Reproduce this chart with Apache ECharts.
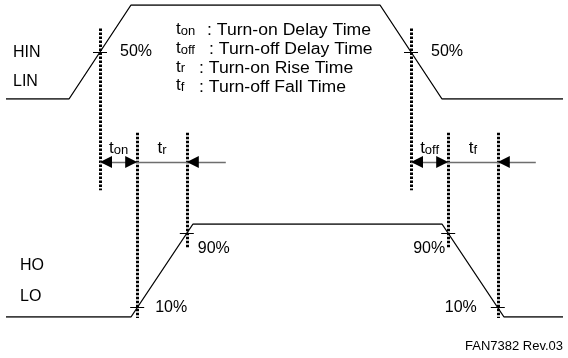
<!DOCTYPE html>
<html>
<head>
<meta charset="utf-8">
<script src="https://cdn.jsdelivr.net/npm/echarts@6/dist/echarts.min.js"></script>
<style>
  html, body { margin: 0; padding: 0; background: #fff; }
  #chart { width: 568px; height: 358px; }
</style>
</head>
<body>
<div id="chart"></div>
<script>
// input (HIN / LIN) and output (HO / LO) waveforms, time vs level in %
var inTime = [6, 69, 131, 380, 442, 563];
var inLevel = [0, 0, 100, 100, 0, 0];
var outTime = [6, 131, 193, 442, 504, 563];
var outLevel = [0, 0, 100, 100, 0, 0];

// reference levels
var inRef = 50;
var outLow = 10;
var outHigh = 90;

var legendSubs = ['on', 'off', 'r', 'f'];
var legendTexts = ['Turn-on Delay Time', 'Turn-off Delay Time', 'Turn-on Rise Time', 'Turn-off Fall Time'];
var intervalSubs = ['on', 'r', 'off', 'f'];
var footer = 'FAN7382 Rev.03';

var FONT = 'Arial, "Liberation Sans", sans-serif';

function pairs(t, v) {
    return t.map(function (x, i) { return [x, v[i]]; });
}
// time where the waveform crosses a level on a rising or falling edge
function crossAt(t, v, level, rising) {
    for (var i = 0; i < t.length - 1; i++) {
        var a = v[i], b = v[i + 1];
        if ((rising && a < level && b >= level) || (!rising && a > level && b <= level)) {
            return t[i] + (level - a) * (t[i + 1] - t[i]) / (b - a);
        }
    }
}

var inRise = crossAt(inTime, inLevel, inRef, true);
var inFall = crossAt(inTime, inLevel, inRef, false);
var outRiseLo = crossAt(outTime, outLevel, outLow, true);
var outRiseHi = crossAt(outTime, outLevel, outHigh, true);
var outFallHi = crossAt(outTime, outLevel, outHigh, false);
var outFallLo = crossAt(outTime, outLevel, outLow, false);

var arrowY = -67;   // level (input scale) where the timing arrows sit
var tail = 39;
var HEAD = 12;

var dotted = { color: '#000', width: 3, type: [2.5, 1.5], opacity: 1 };
var thin = { color: '#000', width: 1, opacity: 1 };

function tick(x, y) { return { coords: [[x - 7, y], [x + 7, y]] }; }
function vline(x, y0, y1) { return { coords: [[x, y0], [x, y1]] }; }
function seg(x0, x1) { return { coords: [[x0, arrowY], [x1, arrowY]] }; }
// arrow head whose tip touches x, pointing in direction dir (+1 right, -1 left)
function head(x, dir) {
    var c = x - dir * HEAD / 2;
    return { coords: [[c - 3 * dir, arrowY], [c, arrowY]] };
}

var sub = function (s) { return '{t|t}{s|' + s + '}'; };
var subRich = {
    t: { fontSize: 17, fontFamily: FONT, color: '#000', lineHeight: 17, verticalAlign: 'top' },
    s: { fontSize: 13, fontFamily: FONT, color: '#000', lineHeight: 13, verticalAlign: 'bottom', padding: [8, 0, 0, 0] }
};

var chart = echarts.init(document.getElementById('chart'));
var option = {
    animation: false,
    grid: [
        { left: 0, right: 0, top: 5, height: 94 },
        { left: 0, right: 0, top: 224, height: 93 }
    ],
    xAxis: [
        { type: 'value', gridIndex: 0, min: 0, max: 568, show: false },
        { type: 'value', gridIndex: 1, min: 0, max: 568, show: false }
    ],
    yAxis: [
        { type: 'value', gridIndex: 0, min: 0, max: 100, show: false },
        { type: 'value', gridIndex: 1, min: 0, max: 100, show: false }
    ],
    series: [
        {
            type: 'line', xAxisIndex: 0, yAxisIndex: 0, symbol: 'none',
            lineStyle: { color: '#000', width: 1.3 }, data: pairs(inTime, inLevel)
        },
        {
            type: 'line', xAxisIndex: 1, yAxisIndex: 1, symbol: 'none',
            lineStyle: { color: '#000', width: 1.3 }, data: pairs(outTime, outLevel)
        },
        // dotted markers
        {
            type: 'lines', coordinateSystem: 'cartesian2d', xAxisIndex: 0, yAxisIndex: 0, clip: false,
            lineStyle: dotted, symbol: 'none',
            data: [vline(inRise, 75, -97), vline(inFall, 75, -97)]
        },
        {
            type: 'lines', coordinateSystem: 'cartesian2d', xAxisIndex: 1, yAxisIndex: 1, clip: false,
            lineStyle: dotted, symbol: 'none',
            data: [vline(outRiseLo, 198, -1), vline(outRiseHi, 198, 74),
                   vline(outFallHi, 198, 74), vline(outFallLo, 198, -1)]
        },
        // crossing ticks
        {
            type: 'lines', coordinateSystem: 'cartesian2d', xAxisIndex: 0, yAxisIndex: 0, clip: false,
            lineStyle: thin, symbol: 'none',
            data: [tick(inRise, inRef), tick(inFall, inRef)]
        },
        {
            type: 'lines', coordinateSystem: 'cartesian2d', xAxisIndex: 1, yAxisIndex: 1, clip: false,
            lineStyle: thin, symbol: 'none',
            data: [tick(outRiseLo, outLow), tick(outRiseHi, outHigh),
                   tick(outFallHi, outHigh), tick(outFallLo, outLow)]
        },
        // timing arrows
        {
            type: 'lines', coordinateSystem: 'cartesian2d', xAxisIndex: 0, yAxisIndex: 0, clip: false,
            lineStyle: { color: '#6e6e6e', width: 1.4, opacity: 1 }, symbol: 'none',
            data: [seg(inRise, outRiseHi + tail), seg(inFall, outFallLo + tail - 1)]
        },
        {
            type: 'lines', coordinateSystem: 'cartesian2d', xAxisIndex: 0, yAxisIndex: 0, clip: false,
            lineStyle: { color: '#000', width: 1, opacity: 1 }, symbol: ['none', 'triangle'], symbolSize: HEAD,
            data: [head(inRise, -1), head(outRiseLo, 1), head(outRiseHi, -1),
                   head(inFall, -1), head(outFallHi, 1), head(outFallLo, -1)]
        },
        // level labels
        {
            type: 'scatter', xAxisIndex: 0, yAxisIndex: 0, symbolSize: 0, silent: true, clip: false,
            itemStyle: { opacity: 1 },
            label: { show: true, position: 'right', distance: 20, formatter: inRef + '%',
                     fontFamily: FONT, fontSize: 16, color: '#000' },
            data: [[inRise, inRef], [inFall, inRef]]
        },
        {
            type: 'scatter', xAxisIndex: 1, yAxisIndex: 1, symbolSize: 0, silent: true, clip: false,
            itemStyle: { opacity: 1 },
            label: { show: true, fontFamily: FONT, fontSize: 16, color: '#000', formatter: '{@[1]}%' },
            data: [
                { value: [outRiseLo, outLow], label: { position: 'right', distance: 18 } },
                { value: [outRiseHi, outHigh], label: { position: 'right', distance: 11, offset: [0, 15] } },
                { value: [outFallHi, outHigh], label: { position: 'left', distance: 3, offset: [0, 15] } },
                { value: [outFallLo, outLow], label: { position: 'left', distance: 21 } }
            ]
        },
        // interval names
        {
            type: 'scatter', xAxisIndex: 0, yAxisIndex: 0, symbolSize: 0, silent: true, clip: false,
            itemStyle: { opacity: 1 },
            label: { show: true, position: 'top', distance: 5, rich: subRich,
                     formatter: function (p) { return sub(intervalSubs[p.dataIndex]); } },
            data: [
                [(inRise + outRiseLo) / 2, arrowY],
                [(outRiseLo + outRiseHi) / 2, arrowY],
                [(inFall + outFallHi) / 2, arrowY],
                [(outFallHi + outFallLo) / 2, arrowY]
            ]
        }
    ],
    graphic: []
};

var labelStyle = { fontFamily: FONT, fontSize: 16, fill: '#000', verticalAlign: 'middle' };
option.graphic.push(
    { type: 'text', x: 13, y: 53, style: Object.assign({ text: 'HIN' }, labelStyle) },
    { type: 'text', x: 13, y: 82, style: Object.assign({ text: 'LIN' }, labelStyle) },
    { type: 'text', x: 20, y: 266, style: Object.assign({ text: 'HO' }, labelStyle) },
    { type: 'text', x: 20, y: 297, style: Object.assign({ text: 'LO' }, labelStyle) },
    { type: 'text', x: 465, y: 346, style: { text: footer, fontFamily: FONT, fontSize: 13, fill: '#000', verticalAlign: 'middle' } }
);
var colonX = [207, 209, 199, 199];
legendSubs.forEach(function (s, i) {
    var y = 21 + i * 18.7;
    option.graphic.push({
        type: 'text', x: 176, y: y,
        style: { text: sub(s), rich: subRich }
    });
    option.graphic.push({
        type: 'text', x: colonX[i], y: y + 2, scaleX: 1.1,
        style: { text: ': ' + legendTexts[i], fontFamily: FONT, fontSize: 16, fill: '#000' }
    });
});

chart.setOption(option);
</script>
</body>
</html>
